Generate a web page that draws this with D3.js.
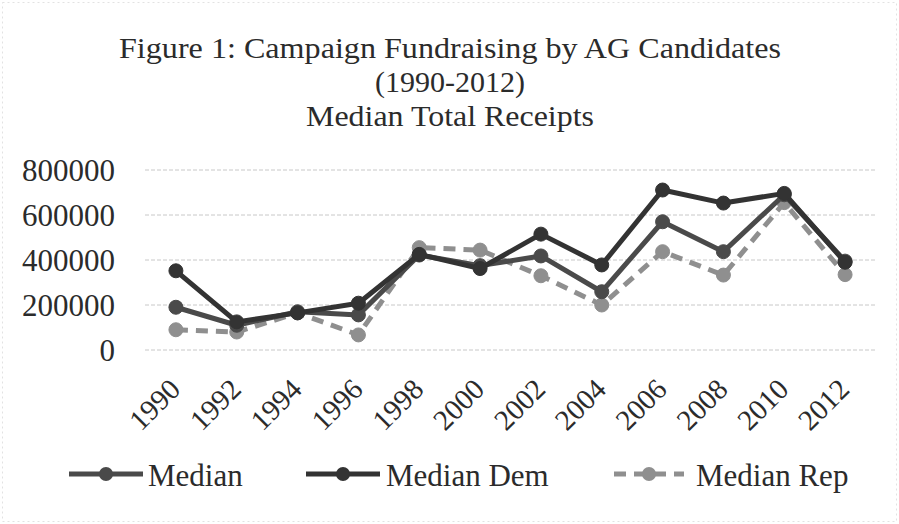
<!DOCTYPE html>
<html>
<head>
<meta charset="utf-8">
<script src="https://cdn.jsdelivr.net/npm/d3@7"></script>
<style>
  html, body { margin: 0; padding: 0; background: #fff; }
  svg { display: block; }
  text { font-family: "Liberation Serif", "Times New Roman", serif; fill: #2b2b2b; }
</style>
</head>
<body>
<svg id="chart" width="899" height="524"></svg>
<script>
const years = ["1990","1992","1994","1996","1998","2000","2002","2004","2006","2008","2010","2012"];
const median    = [190000, 110000, 170000, 156000, 422000, 375000, 418000, 259000, 570000, 437000, 690000, 395000];
const medianDem = [352000, 125000, 165000, 208000, 425000, 362000, 515000, 378000, 711000, 653000, 696000, 390000];
const medianRep = [ 90000,  80000, 165000,  67000, 455000, 444000, 330000, 200000, 437000, 333000, 655000, 335000];
const yTicks = [0, 200000, 400000, 600000, 800000];
const titleLines = ["Figure 1: Campaign Fundraising by AG Candidates", "(1990-2012)", "Median Total Receipts"];
const seriesNames = ["Median", "Median Dem", "Median Rep"];

const series = [
  { name: seriesNames[0], values: median,    color: "#4a4a4a", dash: null,   width: 5 },
  { name: seriesNames[1], values: medianDem, color: "#333333", dash: null,   width: 5 },
  { name: seriesNames[2], values: medianRep, color: "#8f8f8f", dash: "12,8", width: 5 }
];

const svg = d3.select("#chart");

// faint scan border
svg.append("rect").attr("x", 2.5).attr("y", 2.5).attr("width", 894).attr("height", 519)
  .attr("fill", "none").attr("stroke", "#e2e2e2").attr("stroke-dasharray", "2,3");

const x = d3.scaleBand().domain(years).range([145.5, 875.5]).padding(0);
const y = d3.scaleLinear().domain([0, 800000]).range([350, 170]);
const cx = d => x(d) + x.bandwidth() / 2;

// title: three lines
const titleWidths = [662, null, 288];
svg.append("g").selectAll("text").data(titleLines).join("text")
  .attr("x", 450).attr("y", (d, i) => 58 + i * 34)
  .attr("text-anchor", "middle").attr("font-size", 30)
  .each(function(d, i) {
    if (titleWidths[i]) d3.select(this).attr("textLength", titleWidths[i]).attr("lengthAdjust", "spacingAndGlyphs");
  })
  .text(d => d);

// gridlines
svg.append("g").selectAll("line").data(yTicks).join("line")
  .attr("x1", 145).attr("x2", 876).attr("y1", d => y(d)).attr("y2", d => y(d))
  .attr("stroke", "#c8c8c8").attr("stroke-width", 1).attr("stroke-dasharray", "4,2");

// y axis labels
const yAxis = d3.axisLeft(y).tickValues(yTicks).tickSize(0).tickPadding(0).tickFormat(d3.format("d"));
const yg = svg.append("g").attr("transform", "translate(115,0)").call(yAxis);
yg.select(".domain").remove();
yg.selectAll("text").attr("font-size", 31).attr("fill", "#2b2b2b")
  .attr("font-family", "Liberation Serif, Times New Roman, serif").attr("dy", "0.34em");

// x axis labels
const xAxis = d3.axisBottom(x).tickSize(0).tickPadding(0);
const xg = svg.append("g").call(xAxis);
xg.select(".domain").remove();
xg.selectAll(".tick").attr("transform", d => `translate(${cx(d) + 6},391)`);
xg.selectAll("text").attr("font-size", 29).attr("fill", "#2b2b2b")
  .attr("font-family", "Liberation Serif, Times New Roman, serif")
  .attr("text-anchor", "end").attr("y", 0).attr("dy", 0)
  .attr("transform", "rotate(-45)");

// lines
const line = d3.line().x((d, i) => cx(years[i])).y(d => y(d));
const sg = svg.append("g");
[2, 0, 1].forEach(k => {
  const s = series[k];
  const g = sg.append("g");
  g.append("path").datum(s.values).attr("d", line)
    .attr("fill", "none").attr("stroke", s.color).attr("stroke-width", s.width)
    .attr("stroke-dasharray", s.dash).attr("stroke-linejoin", "round").attr("stroke-linecap", s.dash ? "butt" : "round");
  g.selectAll("circle").data(s.values).join("circle")
    .attr("cx", (d, i) => cx(years[i])).attr("cy", d => y(d)).attr("r", 7)
    .attr("fill", s.color).attr("stroke", s.color).attr("stroke-width", 1);
});

// legend
const legendItems = [
  { s: series[0], x1: 69,  x2: 143, tx: 148 },
  { s: series[1], x1: 306, x2: 380, tx: 386 },
  { s: series[2], x1: 614, x2: 684, tx: 696 }
];
const lg = svg.append("g");
legendItems.forEach(it => {
  const mid = (it.x1 + it.x2) / 2;
  lg.append("line").attr("x1", it.x1).attr("x2", it.x2).attr("y1", 474).attr("y2", 474)
    .attr("stroke", it.s.color).attr("stroke-width", it.s.width).attr("stroke-dasharray", it.s.dash);
  lg.append("circle").attr("cx", mid).attr("cy", 474).attr("r", 7).attr("fill", it.s.color);
  lg.append("text").attr("x", it.tx).attr("y", 486).attr("font-size", 31).text(it.s.name);
});
</script>
</body>
</html>
